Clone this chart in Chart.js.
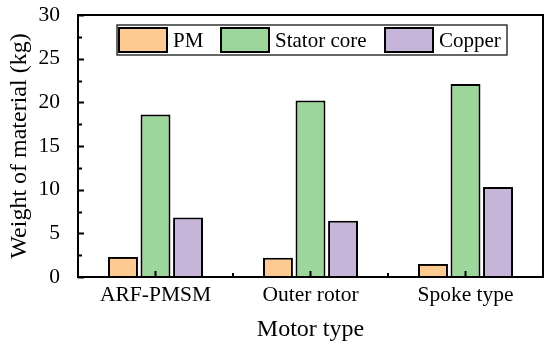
<!DOCTYPE html>
<html>
<head>
<meta charset="utf-8">
<script src="https://cdn.jsdelivr.net/npm/chart.js@4"></script>
<style>
  html, body { margin: 0; padding: 0; background: #fff; }
  #wrap { width: 550px; height: 344px; }
</style>
</head>
<body>
<div id="wrap"><canvas id="materialChart"></canvas></div>
<script>
const motorTypes = ["ARF-PMSM", "Outer rotor", "Spoke type"];
const pmWeight = [2.3, 2.2, 1.5];
const statorWeight = [18.6, 20.2, 22.1];
const copperWeight = [6.8, 6.45, 10.3];
const seriesNames = ["PM", "Stator core", "Copper"];
const seriesColors = ["#FDCB92", "#9DD69A", "#C6B4D9"];

const FONT = "'Liberation Serif', 'Times New Roman', serif";

// kotak, tick ke dalam, dan legenda di dalam area plot
const framePlugin = {
    id: "frame",
    afterDatasetsDraw(chart) {
        const ctx = chart.ctx;
        const a = chart.chartArea;
        const x = chart.scales.x;
        const y = chart.scales.y;
        ctx.save();
        ctx.strokeStyle = "#000";
        ctx.lineWidth = 2;

        // tick sumbu y (mayor tiap 5, minor tiap 2.5)
        for (let v = 0; v <= 30; v += 2.5) {
            const py = Math.round(y.getPixelForValue(v)) + 0.5;
            const len = v % 5 === 0 ? 6 : 4;
            ctx.beginPath();
            ctx.moveTo(a.left, py);
            ctx.lineTo(a.left + len, py);
            ctx.stroke();
        }
        // tick sumbu x
        for (let i = 0; i < motorTypes.length; i++) {
            const px = x.getPixelForValue(i);
            ctx.beginPath();
            ctx.moveTo(px, a.bottom);
            ctx.lineTo(px, a.bottom - 6);
            ctx.stroke();
            if (i < motorTypes.length - 1) {
                const mx = x.getPixelForValue(i + 0.5);
                ctx.beginPath();
                ctx.moveTo(mx, a.bottom);
                ctx.lineTo(mx, a.bottom - 4);
                ctx.stroke();
            }
        }
        ctx.strokeRect(a.left, a.top, a.right - a.left, a.bottom - a.top);

        // legenda
        const lx = a.left + 39, ly = a.top + 10, lw = 390, lh = 30;
        ctx.fillStyle = "#fff";
        ctx.fillRect(lx, ly, lw, lh);
        ctx.lineWidth = 1.2;
        ctx.strokeRect(lx, ly, lw, lh);
        const swX = [lx + 2, lx + 104, lx + 268];
        ctx.font = "21px " + FONT;
        ctx.textBaseline = "middle";
        ctx.textAlign = "left";
        for (let i = 0; i < seriesNames.length; i++) {
            ctx.fillStyle = seriesColors[i];
            ctx.fillRect(swX[i], ly + 3, 48, 24);
            ctx.lineWidth = 2;
            ctx.strokeRect(swX[i], ly + 3, 48, 24);
            ctx.fillStyle = "#000";
            ctx.fillText(seriesNames[i], swX[i] + 54, ly + lh / 2 + 1);
        }
        ctx.restore();
    },
};

const ctx = document.getElementById("materialChart").getContext("2d");
new Chart(ctx, {
    type: "bar",
    data: {
        labels: motorTypes,
        datasets: [
            { label: seriesNames[0], data: pmWeight, backgroundColor: seriesColors[0] },
            { label: seriesNames[1], data: statorWeight, backgroundColor: seriesColors[1] },
            { label: seriesNames[2], data: copperWeight, backgroundColor: seriesColors[2] },
        ],
    },
    options: {
        responsive: true,
        maintainAspectRatio: false,
        animation: false,
        layout: { padding: { top: 15, right: 7, left: 0, bottom: 0 } },
        datasets: {
            bar: {
                borderColor: "#000",
                borderWidth: 2,
                categoryPercentage: 0.63,
                barPercentage: 0.92,
            },
        },
        plugins: {
            legend: { display: false },
            tooltip: { enabled: false },
        },
        scales: {
            x: {
                grid: { display: false, drawTicks: false },
                border: { display: false },
                ticks: { color: "#000", font: { family: FONT, size: 21.5 }, padding: 5 },
                title: {
                    display: true,
                    text: "Motor type",
                    color: "#000",
                    font: { family: FONT, size: 24 },
                    padding: { top: 0, bottom: 0 },
                },
                afterFit: (s) => {
                    s.height = 67;
                    s.paddingLeft = 0;
                    s.paddingRight = 0;
                },
            },
            y: {
                min: 0,
                max: 30,
                grid: { display: false, drawTicks: false },
                border: { display: false },
                ticks: { stepSize: 5, color: "#000", font: { family: FONT, size: 21.5 }, padding: 18 },
                title: {
                    display: true,
                    text: "Weight of material (kg)",
                    color: "#000",
                    font: { family: FONT, size: 24 },
                    padding: { top: 5, bottom: 0 },
                },
                afterFit: (s) => {
                    s.width = 78;
                    s.paddingTop = 0;
                    s.paddingBottom = 0;
                },
            },
        },
    },
    plugins: [framePlugin],
});
</script>
</body>
</html>
